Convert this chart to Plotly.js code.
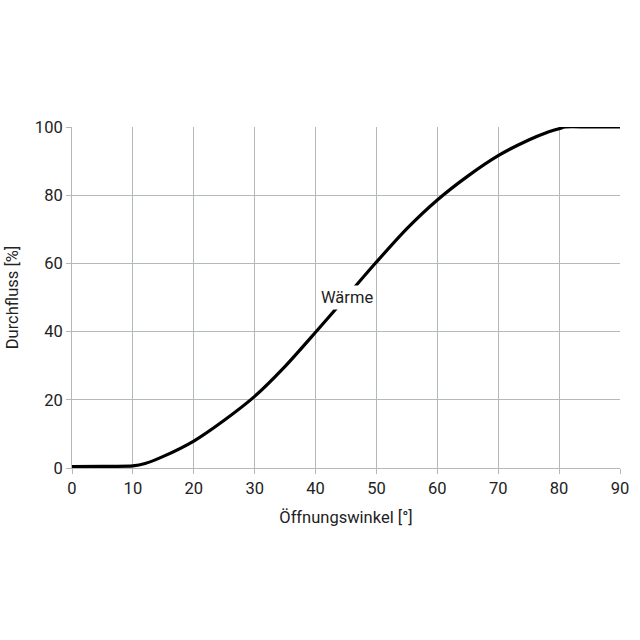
<!DOCTYPE html>
<html>
<head>
<meta charset="utf-8">
<script src="https://cdn.plot.ly/plotly-3.0.1.min.js"></script>
<style>body{margin:0;background:#fff;}#chart{width:640px;height:640px;}</style>
</head>
<body>
<div id="chart"></div>
<script>
const angle = [0, 5, 10, 12, 15, 20, 25, 30, 35, 40, 45, 50, 55, 60, 65, 70, 75, 78, 80, 81, 85, 90];
const flow  = [0.4, 0.5, 0.6, 1.3, 3.4, 7.9, 14.0, 21.0, 29.8, 39.8, 50.1, 60.4, 70.2, 78.6, 85.6, 91.6, 96.2, 98.4, 99.5, 100, 100, 100];
const xTicks = [0, 10, 20, 30, 40, 50, 60, 70, 80, 90];
const yTicks = [0, 20, 40, 60, 80, 100];
const seriesLabel = "Wärme";
const labelAt = [45.2, 50];

const gridColor = "#b3b8b8";
const font = {family: "Roboto, 'DejaVu Sans', sans-serif", size: 16.5, color: "#222"};

Plotly.newPlot("chart", [{
  x: angle, y: flow, mode: "lines", type: "scatter",
  line: {color: "#000", width: 3.2, shape: "spline", smoothing: 0.8},
  hoverinfo: "skip"
}], {
  width: 640, height: 640,
  margin: {l: 72, r: 20, t: 127, b: 172},
  paper_bgcolor: "#fff", plot_bgcolor: "#fff",
  showlegend: false,
  font: font,
  xaxis: {
    range: [0, 90], tickvals: xTicks, ticktext: xTicks.map(String),
    showgrid: true, gridcolor: gridColor, gridwidth: 1,
    zeroline: false, showline: true, linecolor: gridColor, linewidth: 1,
    ticks: "outside", ticklen: 5, tickcolor: gridColor,
    tickfont: font,
    title: {text: "Öffnungswinkel [°]", font: font, standoff: 14}
  },
  yaxis: {
    range: [0, 100], tickvals: yTicks, ticktext: yTicks.map(String),
    showgrid: true, gridcolor: gridColor, gridwidth: 1,
    zeroline: false, showline: true, linecolor: gridColor, linewidth: 1,
    ticks: "outside", ticklen: 5, tickcolor: gridColor,
    tickfont: font,
    title: {text: "Durchfluss [%]", font: font, standoff: 12}
  },
  annotations: [{
    x: labelAt[0], y: labelAt[1], xref: "x", yref: "y",
    text: seriesLabel, showarrow: false,
    bgcolor: "#fff", borderpad: 2,
    font: font
  }]
}, {displayModeBar: false, staticPlot: true});
</script>
</body>
</html>
